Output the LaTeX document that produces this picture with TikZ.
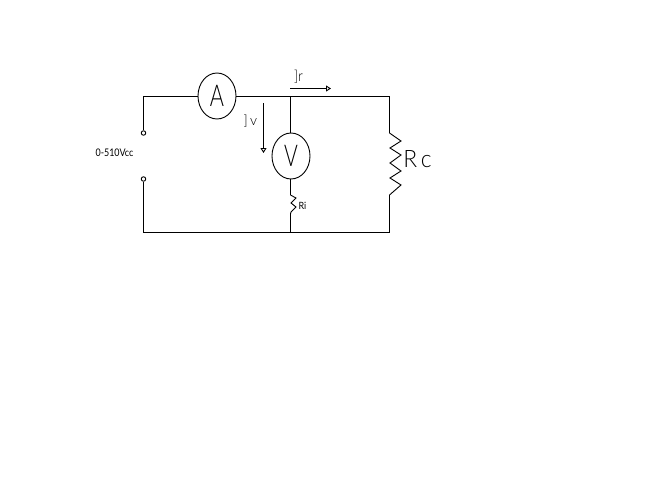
\documentclass[tikz,border=0pt]{standalone}
\usepackage{fontspec}
\usepackage{graphicx}
\setmainfont{Lato Light}
\newfontfamily\smalllabel{Lato}
\usetikzlibrary{shapes.geometric,arrows.meta}
\newcommand{\narrowtext}[2]{\scalebox{#1}[1]{#2}}
\tikzset{
  wire/.style={draw=black,line width=0.9pt,line join=miter},
  meter/.style={ellipse,draw=black,line width=0.9pt,fill=white,minimum width=38pt,minimum height=46pt,inner sep=0pt,font=\fontsize{30}{30}\selectfont},
  term/.style={circle,draw=black,line width=0.9pt,fill=white,minimum size=4.5pt,inner sep=0pt},
  lbl/.style={inner sep=0pt,text=black},
  flow/.style={wire,-{Triangle[open,length=5pt,width=6pt]}}
}
\begin{document}
\begin{tikzpicture}[x=1pt,y=-1pt]
\useasboundingbox[fill=white] (0,0) rectangle (659,480);
\node[meter] (A) at (217,96) {\narrowtext{0.72}{A}};
\node[meter] (V) at (291,156) {\narrowtext{0.7}{V}};
\node[term] (T1) at (143.5,133) {};
\node[term] (T2) at (143.5,179) {};
\coordinate (TL) at (143.5,96.5);
\coordinate (BL) at (143.5,232.5);
\coordinate (TJ) at (290.5,96.5);
\coordinate (BJ) at (290.5,232.5);
\coordinate (TR) at (389.5,96.5);
\coordinate (BR) at (389.5,232.5);
\coordinate (RcT) at (389.5,133);
\coordinate (RcB) at (389.5,195);
\coordinate (RiT) at (290.5,195);
\coordinate (RiB) at (290.5,214);
\coordinate (IrS) at (290,88.5);
\coordinate (IrE) at (331,88.5);
\coordinate (IvS) at (263.5,103);
\coordinate (IvE) at (263.5,153);
\draw[wire] (T1) -- (TL) -- (TL -| A.west);
\draw[wire] (TL -| A.east) -- (TJ) -- (TR) -- (RcT);
\draw[wire] (TJ) -- (TJ |- V.north);
\draw[wire] (T2) -- (BL) -- (BJ) -- (BR) -- (RcB);
\draw[wire] (RiT |- V.south) -- (RiT);
\draw[wire] (RiB) -- (BJ);
\draw[wire] (RcT) -- (401,141) -- (390,148) -- (401,155) -- (390,163) -- (401,171) -- (390,178) -- (401,185) -- (RcB);
\draw[wire] (RiT) -- (296,198) -- (291,203) -- (296,207) -- (291,212) -- (RiB);
\draw[flow] (IrS) -- (IrE);
\draw[flow] (IvS) -- (IvE);
\node[lbl,font=\smalllabel\fontsize{10.5}{10.5}\selectfont] (Vcc) at (114.5,153) {\narrowtext{0.85}{0-510Vcc}};
\node[lbl,font=\fontsize{15}{15}\selectfont] (Ir) at (298.5,76.5) {\narrowtext{0.9}{]r}};
\node[lbl,font=\fontsize{14}{14}\selectfont] (Iv) at (250.5,121.5) {\narrowtext{1}{]\,v}};
\node[lbl,font=\smalllabel\fontsize{10}{10}\selectfont] (Ri) at (302.5,205.5) {\narrowtext{0.9}{Ri}};
\node[lbl,font=\fontsize{24}{24}\selectfont] (Rc) at (417.5,159.5) {\narrowtext{0.95}{R\,c}};
\end{tikzpicture}
\end{document}
